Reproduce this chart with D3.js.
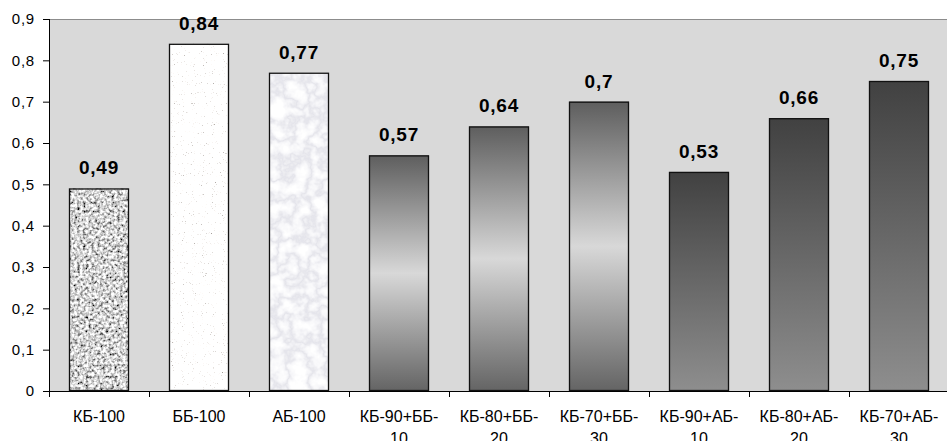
<!DOCTYPE html>
<html>
<head>
<meta charset="utf-8">
<script src="https://cdn.jsdelivr.net/npm/d3@7/dist/d3.min.js"></script>
<style>
  body { margin: 0; background: #fff; }
  svg { display: block; font-family: Arial, "Liberation Sans", sans-serif; }
</style>
</head>
<body>
<svg id="chart" width="947" height="441"></svg>
<script>

var categories = ['КБ-100', 'ББ-100', 'АБ-100', 'КБ-90+ББ-10', 'КБ-80+ББ-20', 'КБ-70+ББ-30',
                  'КБ-90+АБ-10', 'КБ-80+АБ-20', 'КБ-70+АБ-30'];
var values = [0.49, 0.84, 0.77, 0.57, 0.64, 0.70, 0.53, 0.66, 0.75];
var valueLabels = ['0,49', '0,84', '0,77', '0,57', '0,64', '0,7', '0,53', '0,66', '0,75'];
var fills = ['granite', 'speck', 'marble', 'mirror', 'mirror', 'mirror', 'dark', 'dark', 'dark'];
var yTicks = [0, 0.1, 0.2, 0.3, 0.4, 0.5, 0.6, 0.7, 0.8, 0.9];

var margin = {left: 49, top: 19, right: 0, bottom: 50};
var W = 900, H = 372;

var svg = d3.select('#chart');
var defs = svg.append('defs');

// gradients
var g1 = defs.append('linearGradient').attr('id', 'mirror')
    .attr('x1', 0).attr('y1', 0).attr('x2', 0).attr('y2', 1);
g1.append('stop').attr('offset', '0').attr('stop-color', '#5e5e5e');
g1.append('stop').attr('offset', '0.5').attr('stop-color', '#d8d8d8');
g1.append('stop').attr('offset', '1').attr('stop-color', '#646464');

var g2 = defs.append('linearGradient').attr('id', 'dark')
    .attr('x1', 0).attr('y1', 0).attr('x2', 0).attr('y2', 1);
g2.append('stop').attr('offset', '0').attr('stop-color', '#414141');
g2.append('stop').attr('offset', '1').attr('stop-color', '#8e8e8e');

// textures
function texture(id, freq, oct, seed, build){
    var f = defs.append('filter').attr('id', id)
        .attr('x', 0).attr('y', 0).attr('width', 1).attr('height', 1);
    f.append('feTurbulence').attr('type', 'fractalNoise')
        .attr('baseFrequency', freq).attr('numOctaves', oct).attr('seed', seed).attr('result', 'n');
    build(f);
    f.append('feComposite').attr('in2', 'SourceGraphic').attr('operator', 'in');
}
texture('granite', 0.35, 2, 4, function(f){
    f.append('feColorMatrix').attr('type', 'matrix')
        .attr('values', '2.2 0 0 0 -0.45  2.2 0 0 0 -0.45  2.2 0 0 0 -0.45  0 0 0 0 1');
});
texture('speck', 0.9, 1, 7, function(f){
    f.append('feColorMatrix').attr('type', 'matrix')
        .attr('values', '4.5 0 0 0 -0.45  4.5 0 0 0 -0.48  4.5 0 0 0 -0.5  0 0 0 0 1');
});
texture('marble', 0.05, 4, 11, function(f){
    f.append('feColorMatrix').attr('type', 'matrix')
        .attr('values', '1 0 0 0 0  1 0 0 0 0  1 0 0 0 0  0 0 0 0 1');
    var ct = f.append('feComponentTransfer');
    var tv = '1 1 1 0.93 0.78 0.93 1 1 1';
    ct.append('feFuncR').attr('type', 'table').attr('tableValues', tv);
    ct.append('feFuncG').attr('type', 'table').attr('tableValues', tv);
    ct.append('feFuncB').attr('type', 'table').attr('tableValues', '1 1 1 0.95 0.83 0.95 1 1 1');
});

var x = d3.scaleBand().domain(categories).range([0, W]).paddingInner(0.4).paddingOuter(0.2);
var y = d3.scaleLinear().domain([0, 0.9]).range([H, 0]);

var g = svg.append('g').attr('transform', 'translate(' + margin.left + ',' + margin.top + ')');

g.append('rect').attr('width', W).attr('height', H).attr('fill', '#d9d9d9');
g.append('line').attr('x1', 0).attr('x2', W).attr('y1', 0.5).attr('y2', 0.5)
    .attr('stroke', '#8c8c8c').attr('stroke-width', 1);

var bars = g.selectAll('.bar').data(values).enter().append('g');

bars.append('rect')
    .attr('x', function(d, i){ return x(categories[i]); })
    .attr('y', function(d){ return y(d); })
    .attr('width', x.bandwidth())
    .attr('height', function(d){ return H - y(d); })
    .attr('fill', function(d, i){ return (fills[i] == 'mirror' || fills[i] == 'dark') ? 'url(#' + fills[i] + ')' : '#fff'; })
    .attr('filter', function(d, i){ return (fills[i] == 'mirror' || fills[i] == 'dark') ? null : 'url(#' + fills[i] + ')'; });

bars.append('rect')
    .attr('x', function(d, i){ return x(categories[i]) + 0.5; })
    .attr('y', function(d){ return y(d) + 0.5; })
    .attr('width', x.bandwidth() - 1)
    .attr('height', function(d){ return H - y(d) - 1; })
    .attr('fill', 'none').attr('stroke', '#111').attr('stroke-width', 1.3);

bars.append('text')
    .attr('x', function(d, i){ return x(categories[i]) + x.bandwidth() / 2; })
    .attr('y', function(d){ return y(d) - 14; })
    .attr('text-anchor', 'middle')
    .style('font-size', '19px').style('font-weight', 'bold').style('letter-spacing', '0.8px')
    .text(function(d, i){ return valueLabels[i]; });

// y axis
var yAxis = d3.axisLeft(y).tickValues(yTicks).tickSize(6).tickPadding(8)
    .tickFormat(function(d){ return d == 0 ? '0' : d3.format('.1f')(d).replace('.', ','); });
var ya = g.append('g').call(yAxis);
ya.select('.domain').attr('stroke', '#000').attr('d', 'M0.5,0V' + H);
ya.selectAll('.tick line').attr('stroke', '#000');
ya.selectAll('.tick text').style('font-size', '15px').style('letter-spacing', '0.8px').attr('fill', '#000');

// x axis with ticks at band boundaries
var xa = g.append('g').attr('transform', 'translate(0,' + H + ')');
xa.append('line').attr('x1', 0).attr('x2', W).attr('y1', 0.5).attr('y2', 0.5).attr('stroke', '#000');
var step = x.step();
xa.selectAll('.xt').data(d3.range(categories.length)).enter().append('line')
    .attr('x1', function(i){ return Math.round(x(categories[i]) - step * 0.2) + 0.5; })
    .attr('x2', function(i){ return Math.round(x(categories[i]) - step * 0.2) + 0.5; })
    .attr('y1', 0).attr('y2', 6).attr('stroke', '#000');

var xl = xa.selectAll('.xl').data(categories).enter().append('text')
    .attr('text-anchor', 'middle')
    .attr('transform', function(d){ return 'translate(' + (x(d) + x.bandwidth() / 2) + ',31)'; })
    .style('font-size', '16px').attr('fill', '#000');
xl.each(function(d){
    var t = d3.select(this);
    var k = d.lastIndexOf('-');
    if (d.length > 7) {
        t.append('tspan').attr('x', 0).attr('y', 0).text(d.slice(0, k + 1));
        t.append('tspan').attr('x', 0).attr('y', 22).text(d.slice(k + 1));
    } else {
        t.append('tspan').attr('x', 0).attr('y', 0).text(d);
    }
});

</script>
</body>
</html>
